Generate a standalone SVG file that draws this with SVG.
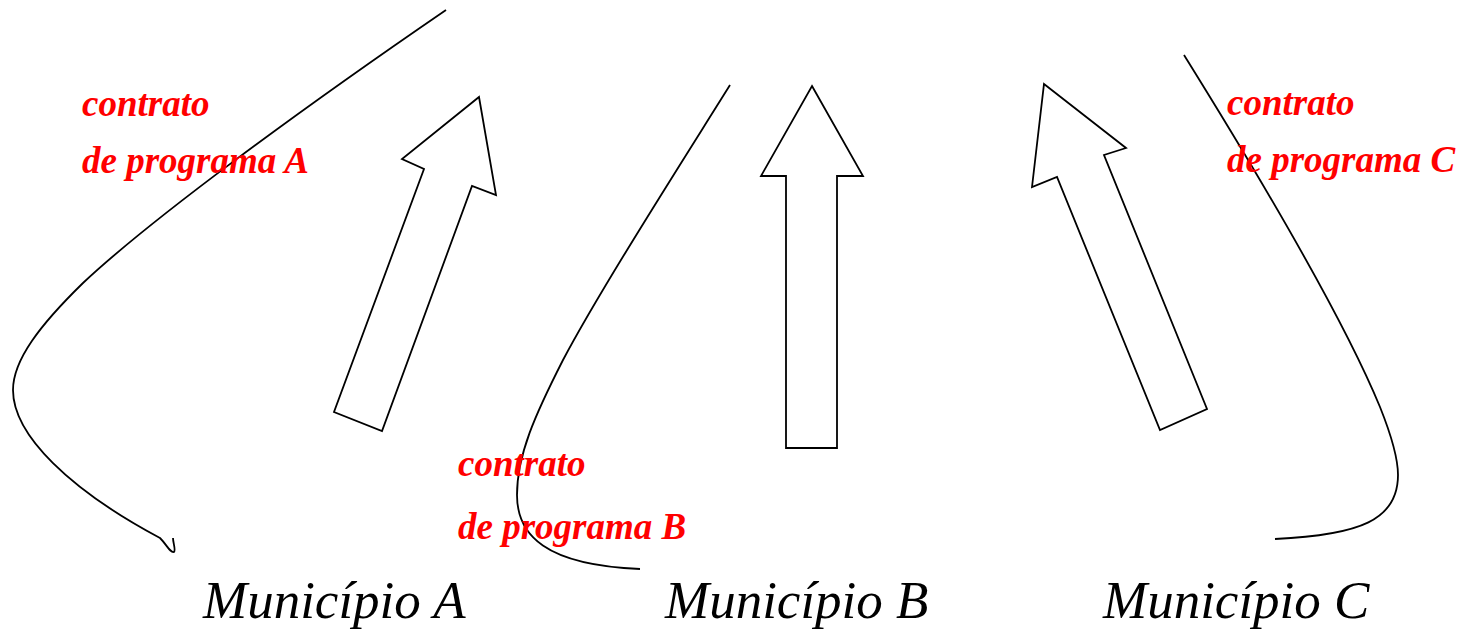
<svg xmlns="http://www.w3.org/2000/svg" width="1463" height="629" viewBox="0 0 1463 629">
<style>
.line{fill:none;stroke:#000;stroke-width:1.8;stroke-linejoin:round}
.arrow{fill:#fff;stroke:#000;stroke-width:1.8}
.lbl{font-family:"Liberation Serif","Times New Roman",serif;font-style:italic;font-weight:bold;font-size:37px;fill:#ff0000}
.mun{font-family:"Liberation Serif","Times New Roman",serif;font-style:italic;font-size:53px;fill:#000}
</style>
<rect width="1463" height="629" fill="#fff"/>
<g id="connectors">
<path class="line" d="M446 10 C300 110 150 220 83 283 C40 325 13 360 13 390 C13 435 70 490 160 538 C167 545 170 553 174 552 C176 550 173 543 173 538"/>
<path class="line" d="M730 85 C680 165 600 290 563 360 C535 415 517 455 517 495 C517 535 545 565 640 569"/>
<path class="line" d="M1184 55 C1240 145 1340 310 1380 407 C1392 437 1398 460 1398 475 C1398 520 1360 535 1275 539"/>
</g>
<g id="arrow-a"><path class="arrow" d="M479 97 L496 195 L472 186 L382 431 L334 412 L424 169 L402 159 Z"/></g>
<g id="arrow-b"><path class="arrow" d="M812 86 L863 176 L837 176 L837 448 L786 448 L786 176 L761 176 Z"/></g>
<g id="arrow-c"><path class="arrow" d="M1044 84 L1126 148 L1104 155 L1207 409 L1160 430 L1057 177 L1032 187 Z"/></g>
<g id="label-a"><text class="lbl" x="82" y="116">contrato</text><text class="lbl" x="82" y="173">de programa A</text></g>
<g id="label-b"><text class="lbl" x="458" y="476">contrato</text><text class="lbl" x="458" y="539">de programa B</text></g>
<g id="label-c"><text class="lbl" x="1227" y="115">contrato</text><text class="lbl" x="1227" y="172">de programa C</text></g>
<g id="municipio-a"><text class="mun" x="203" y="618">Município A</text></g>
<g id="municipio-b"><text class="mun" x="665" y="618">Município B</text></g>
<g id="municipio-c"><text class="mun" x="1103" y="618">Município C</text></g>
</svg>
